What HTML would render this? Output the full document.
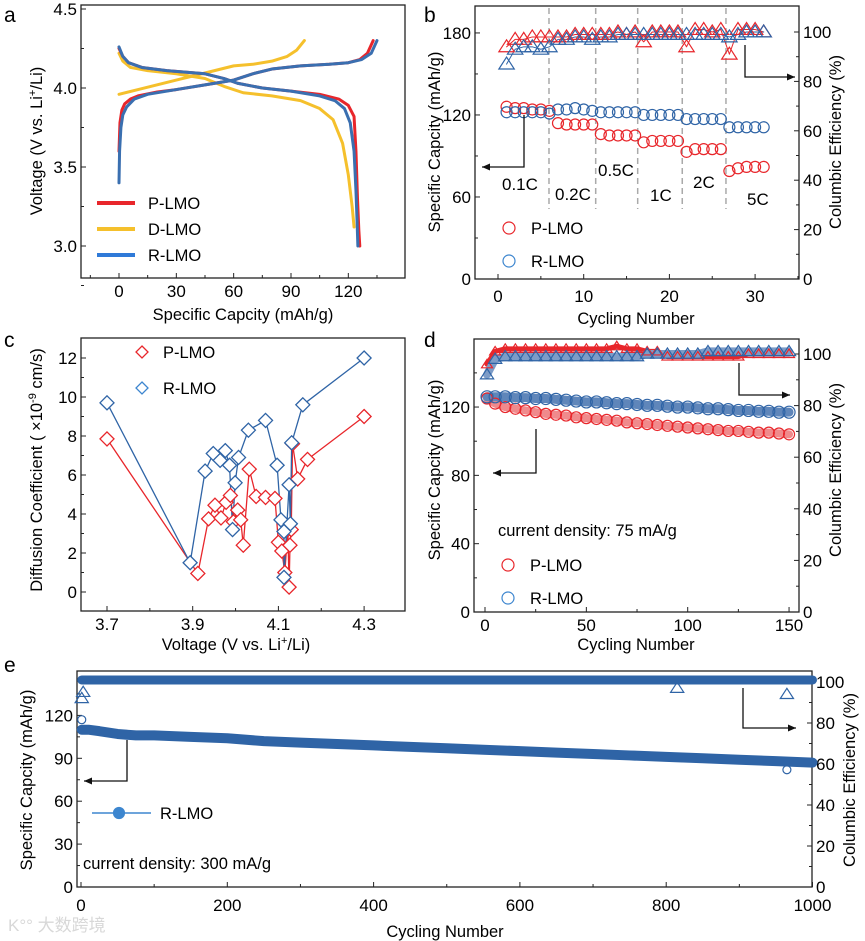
<!DOCTYPE html>
<html><head><meta charset="utf-8">
<style>
html,body{margin:0;padding:0;background:#fff;}
svg{display:block;font-family:"Liberation Sans","Noto Sans CJK SC",sans-serif;}
</style></head>
<body>
<svg id="fig" width="865" height="941" viewBox="0 0 865 941" xmlns="http://www.w3.org/2000/svg">
<g id="static">
<text x="4" y="22" font-size="21">a</text>
<text x="424" y="22" font-size="21">b</text>
<text x="4" y="347" font-size="21">c</text>
<text x="424" y="347" font-size="21">d</text>
<text x="4" y="672" font-size="21">e</text>
<text x="8" y="931" font-size="17" fill="#d8d8d8">K°° 大数跨境</text>
</g>
</svg>
<script>
// ---------- Panel a data ----------
const aPChgX=[0,0.5,1.5,3,6,10,20,30,45,60,70,80,95,110,120,126,130,133];
const aPChgY=[3.6,3.78,3.86,3.9,3.93,3.95,3.975,3.99,4.02,4.05,4.09,4.12,4.14,4.15,4.16,4.18,4.22,4.3];
const aPDisX=[0,2,5,12,25,45,55,62,75,90,105,115,120,123,124,124.8,125.5,126];
const aPDisY=[4.25,4.2,4.16,4.13,4.11,4.09,4.06,4.03,4.0,3.98,3.96,3.93,3.89,3.82,3.6,3.3,3.1,3.0];
const aDChgX=[0,10,20,30,40,50,60,70,80,88,93,97];
const aDChgY=[3.96,3.99,4.02,4.05,4.08,4.11,4.14,4.15,4.17,4.2,4.24,4.3];
const aDDisX=[0,2,6,15,30,45,55,65,80,95,105,112,117,120,122,123];
const aDDisY=[4.22,4.17,4.13,4.11,4.09,4.06,4.01,3.97,3.95,3.92,3.87,3.8,3.65,3.45,3.25,3.12];
const aRChgX=[0,0.3,1,2,4,8,15,30,45,60,70,80,95,110,120,127,132,135];
const aRChgY=[3.4,3.6,3.75,3.83,3.88,3.93,3.96,3.99,4.02,4.05,4.09,4.12,4.14,4.15,4.16,4.18,4.22,4.3];
const aRDisX=[0,2,5,12,25,45,55,62,75,90,105,113,118,121,123,124,124.6,125];
const aRDisY=[4.26,4.2,4.16,4.13,4.11,4.09,4.06,4.03,4.0,3.98,3.95,3.92,3.87,3.78,3.6,3.35,3.15,3.0];
const aXTicks=[0,30,60,90,120];
const aYTicks=[3.0,3.5,4.0,4.5];

// ---------- Panel b data ----------
const bCycles=[1,2,3,4,5,6,7,8,9,10,11,12,13,14,15,16,17,18,19,20,21,22,23,24,25,26,27,28,29,30,31];
const bPCap=[126,125,125,124,124,123,114,113,113,113,113,106,105,105,105,105,100,101,101,101,101,93,95,95,95,95,79,81,82,82,82];
const bRCap=[122,122,122,122,122,121,124,124,125,124,123,122,122,122,122,122,120,120,120,120,120,117,117,117,117,117,111,111,111,111,111];
const bPCE=[94,97,97,98,98,98,98,98,99,99,99,99,99,100,99,100,96,100,100,100,100,94,101,101,100,101,91,101,101,101,100];
const bRCE=[87,93,94,94,93,94,97,97,98,98,97,98,98,99,99,99,99,99,99,99,99,99,99,99,99,99,98,99,100,100,100];
const bDividers=[5.95,11.4,16.3,21.5,26.6];
const bXTicks=[0,10,20,30];
const bYTicks=[0,60,120,180];
const bRTicks=[0,20,40,60,80,100];

// ---------- Panel c data ----------
const cPV=[3.70,3.912,3.937,3.952,3.966,3.978,3.988,3.995,4.005,4.012,4.018,4.032,4.048,4.07,4.092,4.1,4.108,4.115,4.122,4.125,4.127,4.13,4.133,4.145,4.168,4.30];
const cPD=[7.85,0.95,3.75,4.45,3.8,4.6,4.95,3.6,4.2,3.7,2.4,6.3,4.9,4.85,4.8,2.55,2.1,1.0,3.2,0.25,2.4,3.2,7.6,5.8,6.8,9.0];
const cRV=[3.70,3.894,3.929,3.948,3.964,3.976,3.986,3.993,3.999,4.007,4.03,4.07,4.097,4.106,4.113,4.113,4.125,4.128,4.131,4.157,4.30];
const cRD=[9.7,1.5,6.2,7.1,6.75,7.25,6.5,3.2,5.6,6.9,8.3,8.8,6.5,3.7,3.1,0.75,5.5,3.5,7.65,9.6,12.0];
const cXTicks=[3.7,3.9,4.1,4.3];
const cYTicks=[0,2,4,6,8,10,12];

// ---------- Panel d data ----------
const dCycles=[1,5,10,15,20,25,30,35,40,45,50,55,60,65,70,75,80,85,90,95,100,105,110,115,120,125,130,135,140,145,150];
const dPCap=[125,122,120,119,118,117,116,115.5,115,114,113.5,113,112.5,112,111,110.5,110,109.5,109,108.5,108,107.5,107,106.5,106,106,105.5,105,105,104.5,104];
const dRCap=[126,126,126,125.5,125.5,125,125,124.5,124,123.5,123,123,122.5,122,122,121.5,121,121,120.5,120,120,119.5,119,119,118.5,118,118,117.5,117.5,117,117];
const dPCE=[96,101,102,102,102,102,102,102,102,102,102,102,102,103,102,102,101,101,99,99,99,99,99,99,99,99,100,100,100,100,100];
const dRCE=[92,98,99,99,99,99,99,99,99,99,99,99,99,99,99,99,100,100,100,100,100,100,101,101,101,101,101,101,101,101,101];
const dXTicks=[0,50,100,150];
const dYTicks=[0,40,80,120];
const dRTicks=[0,20,40,60,80,100];

// ---------- Panel e data ----------
const eCycles=[1,10,25,50,75,100,150,200,250,300,350,400,450,500,550,600,650,700,750,800,850,900,950,1000];
const eCap=[110,110,109,107,106,106,105,104,102,101,100,99,98,97,96,95,94,93,92,91,90,89,88,87];
const eCE=[101,101,101,101,101,101,101,101,101,101,101,101,101,101,101,101,101,101,101,101,101,101,101,101];
const eOutCECycles=[1,3,815,965];
const eOutCE=[92,95,97,94];
const eOutCapCycles=[1,965];
const eOutCap=[117,82];
const eXTicks=[0,200,400,600,800,1000];
const eYTicks=[0,30,60,90,120];
const eRTicks=[0,20,40,60,80,100];

const NS='http://www.w3.org/2000/svg';
const svg=document.getElementById('fig');
const TF=17;
function mk(tag,attrs,parent,text){
  const e=document.createElementNS(NS,tag);
  for(const k in attrs)e.setAttribute(k,attrs[k]);
  if(text!==undefined)e.textContent=text;
  (parent||svg).appendChild(e);return e;
}
function group(name){
  const g=mk('g',{});
  
  
  return g;
}
function frame(g,x0,y0,x1,y1){
  const r=mk('rect',{x:x0,y:y0,width:x1-x0,height:y1-y0,fill:'none',stroke:'#222','stroke-width':1.3},g);
  
  
}
function xAxis(g,ticks,sx,y,labY,fmt,minor){
  const ax=mk('g',{},g);
  
  
  ticks.forEach(t=>{
    mk('line',{x1:sx(t),x2:sx(t),y1:y,y2:y-5,stroke:'#222'},ax);
    const l=mk('text',{x:sx(t),y:labY,'font-size':TF,'text-anchor':'middle'},ax,fmt?fmt(t):t);
    
    
  });
  (minor||[]).forEach(t=>mk('line',{x1:sx(t),x2:sx(t),y1:y,y2:y-3,stroke:'#222'},ax));
}
function yAxis(g,ticks,sy,x,side,fmt,minor){
  const ax=mk('g',{},g);
  
  
  ticks.forEach(t=>{
    mk('line',{x1:x,x2:x-side*5,y1:sy(t),y2:sy(t),stroke:'#222'},ax);
    const l=mk('text',{x:x+side*4,y:sy(t)+6,'font-size':TF,'text-anchor':side<0?'end':'start'},ax,fmt?fmt(t):t);
    
    
  });
  (minor||[]).forEach(t=>mk('line',{x1:x,x2:x-side*3,y1:sy(t),y2:sy(t),stroke:'#222'},ax));
}
function title(g,txt,x,y,rot,name){
  const t=mk('text',{x:x,y:y,'font-size':16.5,'text-anchor':'middle',transform:rot?`rotate(-90 ${x} ${y})`:''},g);
  t.innerHTML=txt;
  
  
}
function poly(g,xs,ys,sx,sy,color,w,name){
  const p=mk('polyline',{points:xs.map((v,i)=>sx(v)+','+sy(ys[i])).join(' '),fill:'none',stroke:color,'stroke-width':w,'stroke-linejoin':'round','stroke-linecap':'round'},g);
  
  
  return p;
}
function circ(g,x,y,r,color,fill,name){
  const c=mk('circle',{cx:x,cy:y,r:r,fill:fill||'none',stroke:color,'stroke-width':1.2},g);
  
  
}
function tri(g,x,y,s,color,name){
  const p=mk('polygon',{points:`${x},${y-s} ${x-s*1.1},${y+s*0.7} ${x+s*1.1},${y+s*0.7}`,fill:'none',stroke:color,'stroke-width':1.2},g);
  
  
}
function diam(g,x,y,s,color,name){
  const p=mk('polygon',{points:`${x},${y-s} ${x+s},${y} ${x},${y+s} ${x-s},${y}`,fill:'#fff',stroke:color,'stroke-width':1.3},g);
  
  
}
function arrow(g,pts,name){
  const p=mk('polyline',{points:pts.map(q=>q.join(',')).join(' '),fill:'none',stroke:'#111','stroke-width':1.3},g);
  
  
  const a=pts[pts.length-1],b=pts[pts.length-2];
  const dx=Math.sign(a[0]-b[0]);
  mk('polygon',{points:`${a[0]},${a[1]} ${a[0]-dx*8},${a[1]-3.5} ${a[0]-dx*8},${a[1]+3.5}`,fill:'#111'},g);
}
function label(g,txt,x,y,name,size,anchor){
  const t=mk('text',{x:x,y:y,'font-size':size||16.5,'text-anchor':anchor||'start'},g,txt);
  
  
}
const RED='#e8262b',BLUE='#2f64a6',YEL='#f5c02c',LBLUE='#3d86cf';

// ===== Panel a =====
(function(){
  const g=group('panel-a-voltage-profile');
  const sx=c=>119+c*1.911, sy=v=>246-(v-3)*158;
  frame(g,81,5,405,278);
  xAxis(g,aXTicks,sx,278,297,null,[-15,15,45,75,105,135]);
  yAxis(g,aYTicks,sy,81,-1,t=>t.toFixed(1),[2.75,3.25,3.75,4.25]);
  title(g,'Specific Capcity (mAh/g)',243,320,false,'x-axis-title');
  title(g,'Voltage (V vs. Li<tspan font-size="11" dy="-6">+</tspan><tspan dy="6">/Li)</tspan>',42,141,true,'y-axis-title');
  poly(g,aDChgX,aDChgY,sx,sy,YEL,3,'d-lmo-charge-curve');
  poly(g,aDDisX,aDDisY,sx,sy,YEL,3,'d-lmo-discharge-curve');
  poly(g,aPChgX,aPChgY,sx,sy,RED,3,'p-lmo-charge-curve');
  poly(g,aPDisX,aPDisY,sx,sy,RED,3,'p-lmo-discharge-curve');
  poly(g,aRChgX,aRChgY,sx,sy,'#3a6fb0',3,'r-lmo-charge-curve');
  poly(g,aRDisX,aRDisY,sx,sy,'#3a6fb0',3,'r-lmo-discharge-curve');
  [['P-LMO',RED,203],['D-LMO',YEL,229],['R-LMO','#2f7ad8',255]].forEach(([n,c,y])=>{
    const l=mk('line',{x1:97,x2:135,y1:y,y2:y,stroke:c,'stroke-width':4},g);
    
    
    label(g,n,148,y+6,'legend-entry',16.5);
  });
})();

// ===== Panel b =====
(function(){
  const g=group('panel-b-rate-capability');
  const sx=n=>498+n*8.57, sy=c=>279-c*1.367, sr=p=>279-p*2.47;
  frame(g,475,6,799,279);
  xAxis(g,bXTicks,sx,279,302,null,[5,15,25,35]);
  yAxis(g,bYTicks,sy,475,-1,null,[30,90,150]);
  yAxis(g,bRTicks,sr,799,1,null,[10,30,50,70,90]);
  title(g,'Cycling Number',636,324,false,'x-axis-title');
  title(g,'Specific Capcity (mAh/g)',440,142,true,'y-axis-title-left');
  title(g,'Columbic Efficiency (%)',841,142,true,'y-axis-title-right');
  bDividers.forEach(d=>{
    const l=mk('line',{x1:sx(d),x2:sx(d),y1:8,y2:209,stroke:'#aaa','stroke-width':1.5,'stroke-dasharray':'6,4'},g);
    
    
  });
  poly(g,bCycles,bPCE,sx,sr,RED,1,'p-lmo-ce-line');
  poly(g,bCycles,bRCE,sx,sr,BLUE,1,'r-lmo-ce-line');
  bCycles.forEach((n,i)=>{tri(g,sx(n),sr(bPCE[i]),7,RED,'p-lmo-ce-point');});
  bCycles.forEach((n,i)=>{tri(g,sx(n),sr(bRCE[i]),7,BLUE,'r-lmo-ce-point');});
  bCycles.forEach((n,i)=>circ(g,sx(n),sy(bPCap[i]),5.5,RED,null,'p-lmo-capacity-point'));
  bCycles.forEach((n,i)=>circ(g,sx(n),sy(bRCap[i]),5.5,BLUE,null,'r-lmo-capacity-point'));
  [['0.1C',502,190],['0.2C',555,200],['0.5C',598,176],['1C',650,201],['2C',693,188],['5C',747,205]].forEach(([t,x,y])=>label(g,t,x,y,'rate-label',17));
  arrow(g,[[524,115],[524,167],[482,167]],'capacity-axis-arrow');
  arrow(g,[[745,45],[745,77],[795,77]],'ce-axis-arrow');
  circ(g,509,228,6,RED,null,'legend-marker-p-lmo');label(g,'P-LMO',531,234,'legend-entry');
  circ(g,509,261,6,LBLUE,null,'legend-marker-r-lmo');label(g,'R-LMO',531,267,'legend-entry');
})();

// ===== Panel c =====
(function(){
  const g=group('panel-c-diffusion');
  const sx=v=>107+(v-3.7)*428.5, sy=d=>592-d*19.5;
  frame(g,81,338,405,611);
  xAxis(g,cXTicks,sx,611,630,t=>t.toFixed(1),[3.8,4.0,4.2]);
  yAxis(g,cYTicks,sy,81,-1,null,[1,3,5,7,9,11]);
  title(g,'Voltage (V vs. Li<tspan font-size="11" dy="-6">+</tspan><tspan dy="6">/Li)</tspan>',236,650,false,'x-axis-title');
  title(g,'Diffusion Coefficient ( ×10<tspan font-size="11" dy="-6">-9</tspan><tspan dy="6"> cm/s)</tspan>',42,470,true,'y-axis-title');
  poly(g,cPV,cPD,sx,sy,RED,1.3,'p-lmo-line');
  poly(g,cRV,cRD,sx,sy,BLUE,1.3,'r-lmo-line');
  cPV.forEach((v,i)=>diam(g,sx(v),sy(cPD[i]),7,RED,'p-lmo-point'));
  cRV.forEach((v,i)=>diam(g,sx(v),sy(cRD[i]),7,BLUE,'r-lmo-point'));
  diam(g,142,352,6,RED,'legend-marker-p-lmo');label(g,'P-LMO',163,358,'legend-entry');
  diam(g,142,388,6,LBLUE,'legend-marker-r-lmo');label(g,'R-LMO',163,394,'legend-entry');
})();

// ===== Panel d =====
(function(){
  const g=group('panel-d-cycling-75');
  const sx=n=>485+n*2.027, sy=c=>612-c*1.708, sr=p=>612-p*2.58;
  frame(g,474,339,799,612);
  xAxis(g,dXTicks,sx,612,631,null,[25,75,125]);
  yAxis(g,dYTicks,sy,474,-1,null,[20,60,100,140]);
  yAxis(g,dRTicks,sr,799,1,null,[10,30,50,70,90]);
  title(g,'Cycling Number',636,650,false,'x-axis-title');
  title(g,'Specific Capcity (mAh/g)',440,470,true,'y-axis-title-left');
  title(g,'Columbic Efficiency (%)',841,470,true,'y-axis-title-right');
  poly(g,dCycles,dPCE,sx,sr,RED,5,'p-lmo-ce-band');
  poly(g,dCycles,dRCE,sx,sr,'#7d9cc7',8,'r-lmo-ce-band');
  dCycles.forEach((n,i)=>tri(g,sx(n),sr(dPCE[i]),5,RED,'p-lmo-ce-point'));
  dCycles.forEach((n,i)=>tri(g,sx(n),sr(dRCE[i]),6,BLUE,'r-lmo-ce-point'));
  poly(g,dCycles,dPCap,sx,sy,'#f08a8c',8,'p-lmo-capacity-band');
  poly(g,dCycles,dRCap,sx,sy,'#5f86ba',9,'r-lmo-capacity-band');
  dCycles.forEach((n,i)=>circ(g,sx(n),sy(dPCap[i]),5.5,RED,null,'p-lmo-capacity-point'));
  dCycles.forEach((n,i)=>circ(g,sx(n),sy(dRCap[i]),6,BLUE,null,'r-lmo-capacity-point'));
  arrow(g,[[536,429],[536,473],[493,473]],'capacity-axis-arrow');
  arrow(g,[[739,363],[739,395],[790,395]],'ce-axis-arrow');
  label(g,'current density: 75 mA/g',498,536,'current-density-note');
  circ(g,508,565,6,RED,null,'legend-marker-p-lmo');label(g,'P-LMO',530,571,'legend-entry');
  circ(g,508,598,6,LBLUE,null,'legend-marker-r-lmo');label(g,'R-LMO',530,604,'legend-entry');
})();

// ===== Panel e =====
(function(){
  const g=group('panel-e-cycling-300');
  const sx=n=>81+n*0.7315, sy=c=>887-c*1.43, sr=p=>887-p*2.05;
  frame(g,77,671,812,887);
  xAxis(g,eXTicks,sx,887,911,null,[100,300,500,700,900]);
  yAxis(g,eYTicks,sy,77,-1,null,[15,45,75,105,135]);
  yAxis(g,eRTicks,sr,812,1,null,[10,30,50,70,90]);
  title(g,'Cycling Number',445,937,false,'x-axis-title');
  title(g,'Specific Capcity (mAh/g)',32,780,true,'y-axis-title-left');
  title(g,'Columbic Efficiency (%)',855,780,true,'y-axis-title-right');
  poly(g,eCycles,eCE,sx,sr,BLUE,9,'r-lmo-ce-band');
  poly(g,eCycles,eCap,sx,sy,BLUE,10,'r-lmo-capacity-band');
  eOutCECycles.forEach((n,i)=>tri(g,sx(n),sr(eOutCE[i]),6,BLUE,'r-lmo-ce-outlier'));
  eOutCapCycles.forEach((n,i)=>circ(g,sx(n),sy(eOutCap[i]),4,BLUE,null,'r-lmo-capacity-outlier'));
  arrow(g,[[127,740],[127,781],[84,781]],'capacity-axis-arrow');
  arrow(g,[[743,688],[743,728],[796,728]],'ce-axis-arrow');
  const ll=mk('line',{x1:92,x2:151,y1:813,y2:813,stroke:'#3d86cf','stroke-width':1.5},g);
  
  
  circ(g,119,813,5.5,'#3d86cf','#3d86cf','legend-marker-r-lmo');
  label(g,'R-LMO',160,819,'legend-entry');
  label(g,'current density: 300 mA/g',83,869,'current-density-note');
})();
</script>
</body></html>
